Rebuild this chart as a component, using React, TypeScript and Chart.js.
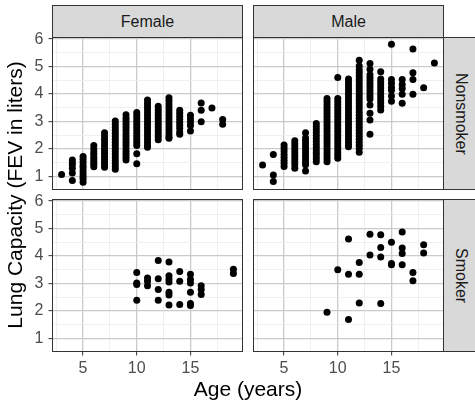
import React, { useEffect, useRef } from "react";
import { Chart, registerables } from "chart.js";

Chart.register(...registerables);

// ---------- categories, ticks, titles ----------
const SEXES = ["Female", "Male"];
const SMOKING = ["Nonsmoker", "Smoker"];
const X_TITLE = "Age (years)";
const Y_TITLE = "Lung Capacity (FEV in liters)";
const X_GRID = [2.5, 5, 7.5, 10, 12.5, 15, 17.5];
const X_LABELS = [5, 10, 15];
const Y_GRID = [1, 1.5, 2, 2.5, 3, 3.5, 4, 4.5, 5, 5.5, 6];
const Y_LABELS = [1, 2, 3, 4, 5, 6];
const X_RANGE = [2.2, 19.8];
const Y_RANGE = [0.54, 6.04];

// ---------- data: [age, FEV values observed at that age] ----------
type Group = [number, number[]];

const femaleNonsmoker: Group[] = [
  [3, [1.07]],
  [4, [1.6, 1.5, 1.42, 1.3, 1.12, 0.85]],
  [5, [1.72, 1.62, 1.51, 1.4, 1.31, 1.2, 1.09, 0.99, 0.9, 0.79]],
  [6, [2.12, 2.01, 1.9, 1.81, 1.7, 1.61, 1.52, 1.44, 1.35]],
  [7, [2.59, 2.47, 2.36, 2.25, 2.14, 2.03, 1.93, 1.83, 1.72, 1.62, 1.53, 1.43, 1.33]],
  [8, [3.02, 2.9, 2.79, 2.68, 2.57, 2.46, 2.35, 2.24, 2.13, 2.02, 1.91, 1.8, 1.69, 1.58, 1.47, 1.36, 1.26]],
  [9, [3.24, 3.12, 3.01, 2.9, 2.79, 2.68, 2.56, 2.45, 2.34, 2.23, 2.12, 2.01, 1.9, 1.8, 1.7, 1.6]],
  [10, [3.33, 3.22, 3.11, 3.0, 2.89, 2.78, 2.67, 2.56, 2.45, 2.34, 2.23, 2.12, 1.82, 1.46]],
  [11, [3.78, 3.67, 3.56, 3.45, 3.34, 3.23, 3.12, 3.01, 2.9, 2.79, 2.68, 2.57, 2.46, 2.35, 2.24, 2.14, 2.06]],
  [12, [3.55, 3.44, 3.33, 3.22, 3.11, 3.0, 2.89, 2.78, 2.67, 2.56, 2.45, 2.33]],
  [13, [3.86, 3.75, 3.64, 3.53, 3.42, 3.31, 3.2, 3.09, 2.98, 2.87, 2.76, 2.65, 2.54, 2.43, 2.39]],
  [14, [3.41, 3.3, 3.19, 3.08, 2.97, 2.86, 2.75, 2.62, 2.53]],
  [15, [3.23, 3.1, 2.98, 2.85, 2.65]],
  [16, [3.67, 3.41, 2.99]],
  [17, [3.49]],
  [18, [3.07, 2.9]],
];

const maleNonsmoker: Group[] = [
  [3, [1.41]],
  [4, [1.8, 1.05, 0.81]],
  [5, [2.14, 2.03, 1.92, 1.81, 1.7, 1.59, 1.48, 1.36]],
  [6, [2.3, 2.19, 2.08, 1.97, 1.86, 1.75, 1.64, 1.53, 1.42, 1.3]],
  [7, [2.59, 2.4, 2.29, 2.18, 2.07, 1.96, 1.85, 1.74, 1.63, 1.52, 1.42, 1.2]],
  [8, [2.93, 2.82, 2.71, 2.6, 2.49, 2.38, 2.27, 2.16, 2.05, 1.94, 1.84, 1.74, 1.64, 1.53]],
  [9, [3.84, 3.73, 3.62, 3.51, 3.4, 3.29, 3.18, 3.07, 2.96, 2.85, 2.74, 2.63, 2.52, 2.41, 2.3, 2.19, 2.08, 1.97, 1.86, 1.75, 1.64, 1.53]],
  [10, [4.6, 3.84, 3.73, 3.62, 3.51, 3.4, 3.29, 3.18, 3.07, 2.96, 2.85, 2.74, 2.63, 2.52, 2.41, 2.3, 2.19, 2.08, 1.97, 1.86, 1.76, 1.66]],
  [11, [4.55, 4.44, 4.33, 4.22, 4.11, 4.0, 3.89, 3.78, 3.67, 3.56, 3.45, 3.34, 3.23, 3.12, 3.01, 2.9, 2.79, 2.68, 2.57, 2.46, 2.35, 2.24, 2.15, 2.08]],
  [12, [5.23, 5.02, 4.88, 4.77, 4.66, 4.55, 4.44, 4.33, 4.22, 4.11, 4.0, 3.89, 3.78, 3.67, 3.56, 3.45, 3.34, 3.23, 3.12, 3.01, 2.9, 2.79, 2.68, 2.57, 2.46, 2.35, 2.24, 2.13, 2.02, 1.88]],
  [13, [5.11, 4.9, 4.7, 4.59, 4.48, 4.37, 4.26, 4.15, 4.04, 3.93, 3.82, 3.6, 3.3, 3.05, 2.53]],
  [14, [4.81, 4.55, 4.44, 4.33, 4.22, 4.11, 4.0, 3.89, 3.78, 3.67, 3.55, 3.42]],
  [15, [5.81, 4.53, 4.39, 4.25, 4.14, 3.93, 3.74]],
  [16, [4.53, 4.35, 4.2, 3.99, 3.66]],
  [17, [5.64, 4.77, 4.53, 3.99]],
  [18, [4.23]],
  [19, [5.13]],
];

const femaleSmoker: Group[] = [
  [10, [3.4, 3.02, 2.96, 2.39]],
  [11, [3.2, 3.08, 2.92]],
  [12, [3.84, 3.17, 2.78, 2.39]],
  [13, [3.78, 3.28, 3.16, 3.05, 2.68, 2.58, 2.22]],
  [14, [3.44, 3.08, 2.23]],
  [15, [3.34, 3.14, 3.02, 2.68, 2.27, 2.2]],
  [16, [2.92, 2.78, 2.6]],
  [19, [3.52, 3.36]],
];

const maleSmoker: Group[] = [
  [9, [1.95]],
  [10, [3.5]],
  [11, [4.62, 3.34, 1.69]],
  [12, [3.76, 3.34, 2.29]],
  [13, [4.79, 4.04]],
  [14, [4.77, 4.31, 3.96, 2.27]],
  [15, [4.5, 3.73, 3.68]],
  [16, [4.87, 4.29, 4.09, 3.68]],
  [17, [3.4, 3.1]],
  [18, [4.41, 4.11]],
];

// [row = smoking status][col = sex]
const PANELS: Group[][][] = [
  [femaleNonsmoker, maleNonsmoker],
  [femaleSmoker, maleSmoker],
];

// ---------- layout (page pixels) ----------
const COL_X = [53, 254];
const ROW_Y = [38, 200];
const PANEL_W = 189;
const PANEL_H = 151;
const STRIP = 33;

const FONT = "'Liberation Sans', Arial, Helvetica, sans-serif";
const MAJOR = "#cbcbcb";
const MINOR = "#ececec";

function Panel({ groups, row, col }: { groups: Group[]; row: number; col: number }) {
  const ref = useRef<HTMLCanvasElement>(null);
  const showX = row === 1;
  const showY = col === 0;
  const ml = showY ? COL_X[0] : 4;
  const mt = 12;
  const mr = 4;
  const mb = showX ? 36 : 4;
  const left = COL_X[col] - ml;
  const top = ROW_Y[row] - mt;
  const w = PANEL_W + ml + mr;
  const h = PANEL_H + mt + mb;

  useEffect(() => {
    const points = groups.flatMap(([age, fevs]) => fevs.map((f) => ({ x: age, y: f })));
    const chart = new Chart(ref.current as HTMLCanvasElement, {
      type: "scatter",
      data: {
        datasets: [
          {
            data: points,
            backgroundColor: "#000",
            borderColor: "#000",
            borderWidth: 0,
            pointRadius: 3.5,
            pointHoverRadius: 3.5,
          },
        ],
      },
      options: {
        animation: false,
        responsive: false,
        events: [],
        layout: { padding: { left: 0, top: mt, right: mr, bottom: 0 } },
        plugins: { legend: { display: false }, tooltip: { enabled: false } },
        scales: {
          x: {
            type: "linear",
            position: "bottom",
            min: X_RANGE[0],
            max: X_RANGE[1],
            afterBuildTicks: (s: any) => {
              s.ticks = X_GRID.map((v) => ({ value: v }));
            },
            afterFit: (s: any) => {
              s.height = mb;
              s.paddingLeft = 0;
              s.paddingRight = 0;
            },
            border: { display: false },
            grid: {
              color: (c: any) => (X_LABELS.includes(c.tick?.value) ? MAJOR : MINOR),
              lineWidth: (c: any) => (X_LABELS.includes(c.tick?.value) ? 1.3 : 0.8),
              drawTicks: showX,
              tickLength: 4.5,
              tickColor: (c: any) => (X_LABELS.includes(c.tick?.value) ? "#333333" : "rgba(0,0,0,0)"),
              tickWidth: 1,
            },
            ticks: {
              display: showX,
              autoSkip: false,
              maxRotation: 0,
              padding: 3,
              color: "#4d4d4d",
              font: { family: FONT, size: 16 },
              callback: (v: any) => (X_LABELS.includes(v) ? String(v) : ""),
            },
          },
          y: {
            type: "linear",
            position: "left",
            min: Y_RANGE[0],
            max: Y_RANGE[1],
            afterBuildTicks: (s: any) => {
              s.ticks = Y_GRID.map((v) => ({ value: v }));
            },
            afterFit: (s: any) => {
              s.width = ml;
              s.paddingTop = 0;
              s.paddingBottom = 0;
            },
            border: { display: false },
            grid: {
              color: (c: any) => (Y_LABELS.includes(c.tick?.value) ? MAJOR : MINOR),
              lineWidth: (c: any) => (Y_LABELS.includes(c.tick?.value) ? 1.3 : 0.8),
              drawTicks: showY,
              tickLength: 4.5,
              tickColor: (c: any) => (Y_LABELS.includes(c.tick?.value) ? "#333333" : "rgba(0,0,0,0)"),
              tickWidth: 1,
            },
            ticks: {
              display: showY,
              autoSkip: false,
              padding: 5,
              color: "#4d4d4d",
              font: { family: FONT, size: 16 },
              callback: (v: any) => (Y_LABELS.includes(v) ? String(v) : ""),
            },
          },
        },
      },
    } as any);
    return () => chart.destroy();
  }, []);

  return (
    <canvas
      ref={ref}
      width={w}
      height={h}
      style={{ position: "absolute", left, top, width: w, height: h }}
    />
  );
}

const boxStyle = (left: number, top: number, width: number, height: number): React.CSSProperties => ({
  position: "absolute",
  left,
  top,
  width,
  height,
  boxSizing: "border-box",
  border: "1px solid #333333",
});

export default function App() {
  return (
    <div
      style={{
        position: "fixed",
        left: 0,
        top: 0,
        width: 475,
        height: 401,
        background: "#ffffff",
        overflow: "hidden",
        fontFamily: FONT,
      }}
    >
      {PANELS.map((rowPanels, r) =>
        rowPanels.map((groups, c) => <Panel key={`${r}-${c}`} groups={groups} row={r} col={c} />)
      )}
      {/* panel borders */}
      {PANELS.map((rowPanels, r) =>
        rowPanels.map((_, c) => (
          <div
            key={`b-${r}-${c}`}
            style={{ ...boxStyle(COL_X[c] - 1, ROW_Y[r] - 1, PANEL_W + 2, PANEL_H + 2), pointerEvents: "none" }}
          />
        ))
      )}
      {/* top strips */}
      {SEXES.map((s, c) => (
        <div
          key={`s-${s}`}
          style={{
            ...boxStyle(COL_X[c] - 1, ROW_Y[0] - STRIP, PANEL_W + 2, STRIP),
            background: "#d9d9d9",
            display: "flex",
            alignItems: "center",
            justifyContent: "center",
            color: "#1a1a1a",
            fontSize: 16,
          }}
        >
          {s}
        </div>
      ))}
      {/* right strips */}
      {SMOKING.map((s, r) => (
        <div
          key={`r-${s}`}
          style={{
            ...boxStyle(COL_X[1] + PANEL_W, ROW_Y[r] - 1, STRIP + 2, PANEL_H + 2),
            background: "#d9d9d9",
            display: "flex",
            alignItems: "center",
            justifyContent: "center",
            color: "#1a1a1a",
            fontSize: 16,
          }}
        >
          <span style={{ writingMode: "vertical-rl", whiteSpace: "nowrap" }}>{s}</span>
        </div>
      ))}
      {/* axis titles */}
      <div
        style={{
          position: "absolute",
          left: COL_X[0],
          width: COL_X[1] + PANEL_W - COL_X[0],
          top: 378,
          textAlign: "center",
          fontSize: 21,
          lineHeight: "22px",
          color: "#000",
          whiteSpace: "nowrap",
        }}
      >
        {X_TITLE}
      </div>
      <div
        style={{
          position: "absolute",
          left: 15 - 160,
          top: (ROW_Y[0] + ROW_Y[1] + PANEL_H) / 2 - 11,
          width: 320,
          height: 22,
          lineHeight: "22px",
          textAlign: "center",
          fontSize: 21,
          color: "#000",
          whiteSpace: "nowrap",
          transform: "rotate(-90deg)",
        }}
      >
        {Y_TITLE}
      </div>
    </div>
  );
}
